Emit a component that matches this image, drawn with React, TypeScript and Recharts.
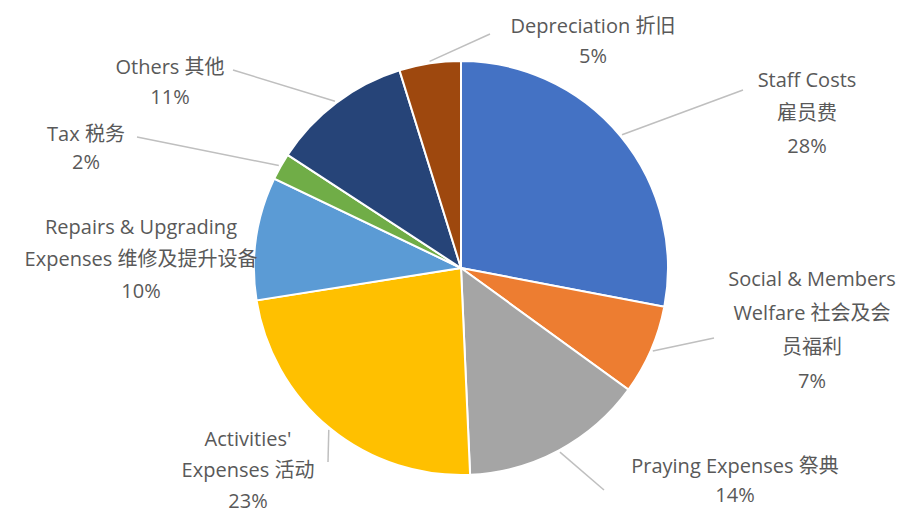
import { Cell, Pie, PieChart } from 'recharts';

// expense split, clockwise from 12 o'clock
const CATEGORIES = [
  'Staff Costs',
  'Social & Members Welfare',
  'Praying Expenses',
  "Activities' Expenses",
  'Repairs & Upgrading Expenses',
  'Tax',
  'Others',
  'Depreciation',
];
const LABEL_LINES = [
  ['Staff Costs', '雇员费'],
  ['Social & Members', 'Welfare 社会及会', '员福利'],
  ['Praying Expenses 祭典'],
  ["Activities'", 'Expenses 活动'],
  ['Repairs & Upgrading', 'Expenses 维修及提升设备'],
  ['Tax 税务'],
  ['Others 其他'],
  ['Depreciation 折旧'],
];
const SHARES = [28.0, 7.0, 14.3, 23.2, 9.6, 2.1, 11.0, 4.8];
const COLORS = ['#4472C4', '#ED7D31', '#A5A5A5', '#FFC000', '#5B9BD5', '#70AD47', '#264478', '#9E480E'];

// label block placement relative to the pie centre (text centre x, first line y, line gap)
// plus where the leader line ends; null = no leader
const LABEL_LAYOUT = [
  { dx: 346, dy: -189, gap: 33, end: [282, -178] },
  { dx: 351, dy: 10, gap: 34, end: [253, 70] },
  { dx: 274, dy: 197, gap: 29, end: [143, 222] },
  { dx: -213, dy: 170, gap: 31, end: [-133, 194] },
  { dx: -320, dy: -42, gap: 32, end: null },
  { dx: -375, dy: -135, gap: 28, end: [-324, -131] },
  { dx: -291, dy: -202, gap: 30, end: [-228, -198] },
  { dx: 132, dy: -243, gap: 30, end: [29, -234] },
];

const RADIAN = Math.PI / 180;
const TOTAL = SHARES.reduce((s, v) => s + v, 0);
const data = CATEGORIES.map((name, i) => ({ name, value: SHARES[i] }));

function renderLabel(props: any) {
  const { cx, cy, midAngle, outerRadius, index } = props;
  const layout = LABEL_LAYOUT[index];
  const lines = [...LABEL_LINES[index], `${Math.round((SHARES[index] / TOTAL) * 100)}%`];
  const r = outerRadius + 2;
  const sx = cx + r * Math.cos(-midAngle * RADIAN);
  const sy = cy + r * Math.sin(-midAngle * RADIAN);
  return (
    <g key={`lbl-${index}`}>
      {layout.end && (
        <polyline
          points={`${sx},${sy} ${cx + layout.end[0]},${cy + layout.end[1]}`}
          fill="none"
          stroke="#BFBFBF"
          strokeWidth={1.5}
        />
      )}
      <text
        x={cx + layout.dx}
        textAnchor="middle"
        fill="#595959"
        fontSize={20}
        fontFamily="'Open Sans', 'Noto Sans CJK SC', sans-serif"
      >
        {lines.map((line, i) => (
          <tspan key={i} x={cx + layout.dx} y={cy + layout.dy + i * layout.gap} dominantBaseline="central">
            {line}
          </tspan>
        ))}
      </text>
    </g>
  );
}

export default function App() {
  return (
    <div style={{ width: 899, height: 514, background: '#fff' }}>
      <style>{'body{margin:0}'}</style>
      <PieChart width={899} height={514} margin={{ top: 0, right: 0, bottom: 0, left: 0 }}>
        <Pie
          data={data}
          dataKey="value"
          nameKey="name"
          cx={461}
          cy={268}
          outerRadius={207}
          startAngle={90}
          endAngle={-270}
          stroke="#fff"
          strokeWidth={2}
          label={renderLabel}
          labelLine={false}
          isAnimationActive={false}
        >
          {data.map((d, i) => (
            <Cell key={d.name} fill={COLORS[i]} />
          ))}
        </Pie>
      </PieChart>
    </div>
  );
}
